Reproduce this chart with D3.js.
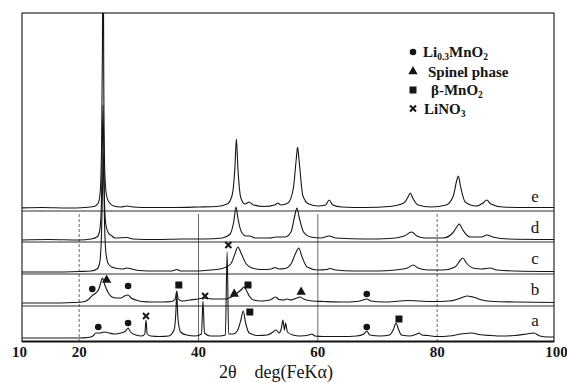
<!DOCTYPE html>
<html><head><meta charset="utf-8">
<script src="https://cdn.jsdelivr.net/npm/d3@7"></script>
<style>html,body{margin:0;padding:0;background:#fff;}svg{display:block;} text{font-family:'Liberation Serif','Times New Roman',serif;}</style>
</head><body>
<script>
// ---- data ----
const xTicks = [10, 20, 40, 60, 80, 100];
const gridAngles = [20, 40, 60, 80];
const gridDashed = [true, false, false, true];
const traceNames = ["a", "b", "c", "d", "e"];
const traceOffsets = [3, 38, 69, 101, 133];      // baseline of each trace (intensity units)
const panelLines = [35, 67, 99, 130];           // horizontal separator levels
const labelLevels = [15, 46, 77, 108, 139];      // curve label baseline levels

const traceA = [[10,0],[15,0],[20,0],[21.5,0.5],[22.3,2],[22.8,5],[23.5,5],[24.2,6],[25,5],[26,4],[27,5],[27.8,7],[28.2,10],[28.6,6],[29.5,3],[30.5,2],[31.0,4],[31.2,18],[31.4,4],[32,2],[33.5,1.5],[35,2],[35.9,8],[36.2,25],[36.35,45],[36.55,20],[37,6],[38,3],[39.5,2],[40.5,4],[40.75,37],[41,5],[42,2],[43.5,2],[44.5,3],[44.8,86],[45.05,4],[45.8,4],[46.5,7],[47.1,18],[47.5,27],[47.9,15],[48.5,5],[50,2.5],[51.5,3],[52.5,6],[53,8],[53.5,5],[53.9,10],[54.15,18],[54.4,8],[54.6,15],[54.9,6],[55.8,3],[57,2],[58.5,3],[59,4],[59.5,2],[61,1.5],[64,1.5],[66.5,2],[67.7,4],[68.2,7],[68.7,3],[70.5,2],[72,3],[72.7,9],[73.1,15],[73.5,9],[74,3],[75.5,2],[76.6,4],[77,5],[77.4,3],[78.5,2.5],[80,1.5],[82,2],[84,4],[85.8,5],[87,3.5],[89,2.5],[91,2],[93,2.5],[95,4],[96.2,5],[97.2,2],[98.5,1],[100,1]];
const traceB = [[10,0],[15,0],[19,0.5],[20.5,1],[21.3,2.5],[21.8,5],[22.3,8],[22.8,10],[23.3,14],[23.7,22],[23.9,25],[24.3,18],[24.9,10],[25.5,6],[26.2,5],[27,5],[27.6,7],[28.2,8],[28.7,5],[29.5,3],[30.5,1.5],[32,1],[34,1],[35.5,1.5],[36.1,4],[36.35,12],[36.6,4],[37.2,2],[38.5,3],[40,4],[40.8,5],[41.5,4.5],[43,4],[44.5,4],[45.5,6],[46.2,9],[46.7,11],[47.3,14],[47.6,16],[48,13],[48.5,7],[49.2,3],[50.5,2],[52,3],[52.9,6],[53.5,3.5],[54.3,3],[54.8,4],[55.5,3],[56.5,5],[57,6],[57.6,4],[59,2],[61,1.5],[64,1],[66.5,1.5],[67.6,3],[68.2,4],[68.9,2],[71,1],[73,1.5],[75,2.5],[77,2],[79,1.5],[82,2],[83.5,4],[85,7],[86,6],[87.5,3],[89.5,1.5],[93,1],[100,0.5]];
const traceC = [[10,0],[15,0],[20,0.5],[22,1],[23,3],[23.4,8],[23.7,30],[23.9,80],[24.05,120],[24.25,50],[24.5,18],[24.9,8],[25.5,5],[26,4],[27.3,3],[28,4],[28.8,3],[30,1.5],[33,1],[35.5,1],[36.4,2.5],[37,1],[40,1],[42,2],[44,3.5],[45.4,8],[46.1,18],[46.6,25],[47.2,18],[48,8],[49,4],[50.5,2.5],[52.2,3],[52.8,4.5],[53.5,3],[54.5,3.5],[55.5,8],[56.3,19],[56.8,24],[57.3,16],[58.2,5],[60,2],[61.5,2.5],[62,3.5],[63,2],[66,1],[70,1],[73,2],[75,4],[76,7],[76.8,4],[78.5,2],[81,2],[83,5],[83.9,12],[84.3,14],[84.9,9],[86,4],[87.5,3],[88.8,4],[90,2],[93,1],[100,0.5]];
const traceD = [[10,0],[15,0.5],[20,0],[22,1],[23,3],[23.4,8],[23.7,30],[23.85,80],[24.0,135],[24.2,50],[24.45,16],[24.9,7],[25.5,4],[26,2],[28,2.5],[29,1],[33,0.5],[37,1],[41,1],[44,2],[45.3,6],[45.9,18],[46.3,33],[46.6,22],[47.2,8],[48,4],[48.6,4],[49.5,2],[52,2],[53,3],[54.5,3],[55.5,8],[56.2,26],[56.5,32],[56.9,22],[57.6,8],[58.8,3],[60.5,2],[61.9,4],[63,2],[68,1],[72,1.5],[74.5,4],[75.7,8],[76.6,4],[78,2],[81,2],[82.6,7],[83.4,14],[83.7,16],[84.3,10],[85.5,3],[87.5,3],[88.3,5],[89.3,3],[92,1],[100,0.5]];
const traceE = [[10,0],[14,0.5],[18,0],[21,0.5],[22.5,1.5],[23.2,5],[23.5,14],[23.75,60],[23.9,160],[24.0,330],[24.12,130],[24.3,35],[24.6,12],[25.1,5],[25.8,2],[27,1],[28,2],[29,1],[32,0.5],[36,0.5],[40,1],[43,1.5],[44.8,4],[45.6,12],[46.1,40],[46.35,69],[46.6,40],[47.1,10],[47.8,4],[48.5,6],[49.2,3],[51,1.5],[52.8,3],[53.3,5],[53.8,3],[55,5],[55.9,20],[56.4,50],[56.6,61],[56.9,45],[57.5,12],[58.5,4],[60,2],[61.3,3],[61.9,8],[62.5,3],[64,1],[68,0.5],[72,1.5],[74.4,5],[75.2,12],[75.5,15],[75.9,10],[76.8,3],[79,1],[81.5,3],[82.7,12],[83.3,28],[83.55,32],[83.9,22],[84.7,6],[86.5,2],[87.7,5],[88.3,8],[89,4],[91,1],[95,0.5],[100,0.5]];
const traces = [traceA, traceB, traceC, traceD, traceE];

// phase markers: [trace index, 2theta, level above trace baseline, symbol]
const markers = [
  [0, 23.2, 11, "circle"], [0, 28.2, 15, "circle"], [0, 31.2, 22, "cross"],
  [0, 41.1, 42, "cross"], [0, 45.0, 93, "cross"], [0, 48.6, 26, "square"],
  [0, 68.2, 11, "circle"], [0, 73.6, 19, "square"],
  [1, 22.2, 14, "circle"], [1, 24.6, 23, "triangle"], [1, 28.2, 17, "circle"],
  [1, 36.7, 18, "square"], [1, 46.0, 9, "triangle"], [1, 48.3, 18, "square"],
  [1, 57.2, 11, "triangle"], [1, 68.2, 9, "circle"]
];
const legendSymbols = ["circle", "triangle", "square", "cross"];
const legendLabels = [["Li", "0.3", "MnO", "2"], ["Spinel phase"], ["β-MnO", "2"], ["LiNO", "3"]];
const xTitle = "2θ    deg(FeKα)";

// ---- drawing ----
const W = 567, H = 383;
const x = d3.scaleLinear().domain([10, 100]).range([19.5, 556.5]);
const y = d3.scaleLinear().domain([0, 328]).range([341, 13]);
const fL = 22, fR = 554, fT = 13, fB = 341.5;

const svg = d3.select("body").append("svg").attr("width", W).attr("height", H);
svg.append("defs").append("clipPath").attr("id", "clip")
  .append("rect").attr("x", fL).attr("y", fT).attr("width", fR - fL).attr("height", fB - fT);

const ink = "#151515";

// grid lines
gridAngles.forEach((g, i) => {
  svg.append("line").attr("x1", x(g)).attr("x2", x(g))
    .attr("y1", y(traceOffsets[4] - 6)).attr("y2", fB)
    .attr("stroke", "#444").attr("stroke-width", 0.8)
    .attr("stroke-dasharray", gridDashed[i] ? "3,2" : null);
});

// panel separator lines
panelLines.forEach(v => {
  svg.append("line").attr("x1", fL).attr("x2", fR).attr("y1", y(v)).attr("y2", y(v))
    .attr("stroke", ink).attr("stroke-width", 0.9);
});

// traces
const line = d3.line().x(d => x(d[0])).curve(d3.curveMonotoneX);
const g = svg.append("g").attr("clip-path", "url(#clip)");
traces.forEach((t, i) => {
  g.append("path").datum(t)
    .attr("d", line.y(d => y(d[1] + traceOffsets[i])))
    .attr("fill", "none").attr("stroke", ink).attr("stroke-width", 1.1)
    .attr("stroke-linejoin", "round");
});

// frame
svg.append("rect").attr("x", fL).attr("y", fT).attr("width", fR - fL).attr("height", fB - fT)
  .attr("fill", "none").attr("stroke", ink).attr("stroke-width", 1.1);
svg.append("line").attr("x1", fL).attr("x2", fR).attr("y1", fB).attr("y2", fB)
  .attr("stroke", ink).attr("stroke-width", 1.8);

// symbols
function drawSymbol(sel, type, cx, cy) {
  if (type === "circle") sel.append("circle").attr("cx", cx).attr("cy", cy).attr("r", 3.3).attr("fill", ink);
  else if (type === "triangle") sel.append("path").attr("d", d3.symbol(d3.symbolTriangle, 38)()).attr("transform", `translate(${cx},${cy})`).attr("fill", ink);
  else if (type === "square") sel.append("rect").attr("x", cx - 3.5).attr("y", cy - 3.5).attr("width", 7).attr("height", 7).attr("fill", ink);
  else if (type === "cross") sel.append("path").attr("d", `M${cx-3},${cy-3}L${cx+3},${cy+3}M${cx+3},${cy-3}L${cx-3},${cy+3}`).attr("stroke", ink).attr("stroke-width", 2);
}
markers.forEach(m => drawSymbol(svg, m[3], x(m[1]), y(m[2] + traceOffsets[m[0]])));

// curve labels
traceNames.forEach((n, i) => {
  svg.append("text").attr("x", 535).attr("y", y(labelLevels[i])).attr("text-anchor", "middle")
    .attr("font-size", 17).attr("fill", ink).text(n);
});

// legend
const legY = [52, 71.5, 90, 108.5];
const legTX = [423, 428, 431, 424];
legendSymbols.forEach((s, i) => {
  drawSymbol(svg, s, 413, legY[i]);
  const t = svg.append("text").attr("x", legTX[i]).attr("y", legY[i] + 5)
    .attr("font-weight", "bold").attr("font-size", 15).attr("fill", ink);
  legendLabels[i].forEach((part, k) => {
    const ts = t.append("tspan").text(part);
    if (k % 2 === 1) ts.attr("font-size", 9.5).attr("dy", 3);
    else if (k > 0) ts.attr("dy", -3);
  });
});

// x tick labels
xTicks.forEach(v => {
  svg.append("text").attr("x", x(v)).attr("y", 357).attr("text-anchor", "middle")
    .attr("font-weight", "bold").attr("font-size", 15).attr("fill", ink).text(v);
});
svg.append("text").attr("x", 276).attr("y", 378).attr("text-anchor", "middle")
  .attr("font-size", 18).attr("fill", ink).style("white-space", "pre").text(xTitle);
</script>
</body></html>
